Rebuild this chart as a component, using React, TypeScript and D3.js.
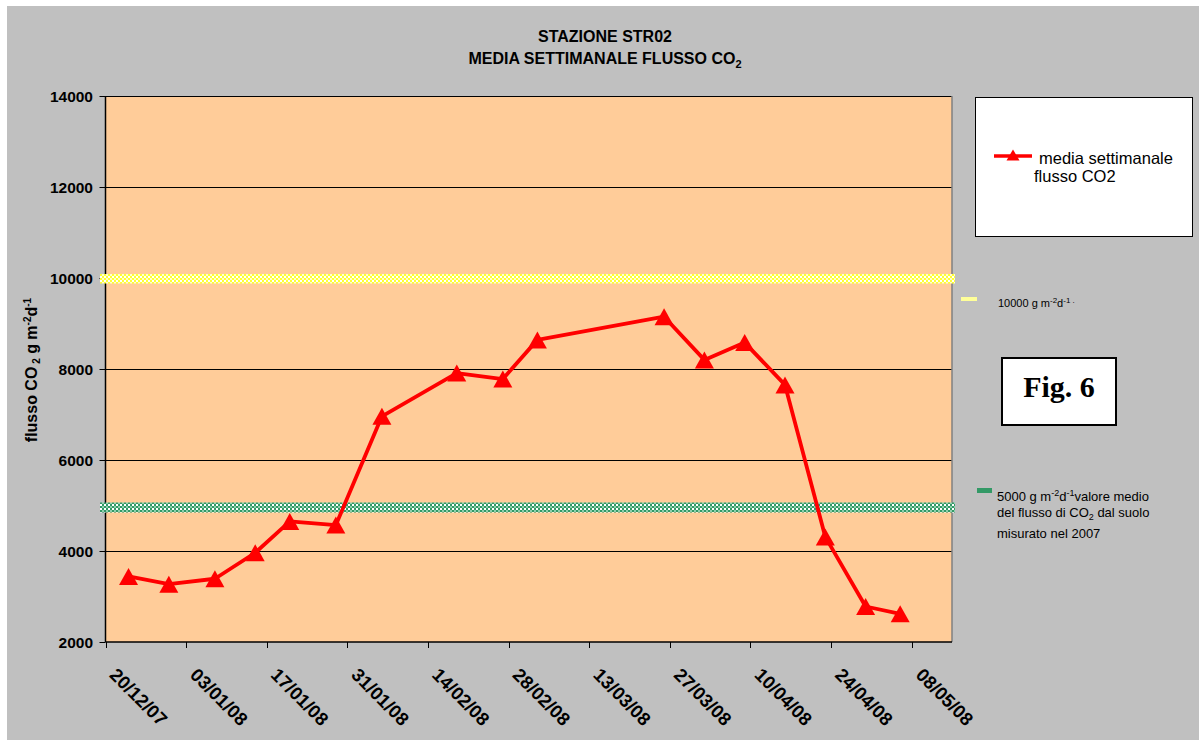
import React from "react";
import * as d3 from "d3";

const dates = ["24/12/07","31/12/07","08/01/08","15/01/08","21/01/08","29/01/08","06/02/08","19/02/08","27/02/08","04/03/08","26/03/08","02/04/08","09/04/08","16/04/08","23/04/08","30/04/08","06/05/08"];
const values = [3440, 3270, 3390, 3960, 4650, 4570, 6960, 7910, 7780, 8640, 9150, 8200, 8580, 7650, 4310, 2780, 2620];
const xTickLabels = ["20/12/07","03/01/08","17/01/08","31/01/08","14/02/08","28/02/08","13/03/08","27/03/08","10/04/08","24/04/08","08/05/08"];
const yTicks = [2000, 4000, 6000, 8000, 10000, 12000, 14000];
const xDomain = ["20/12/07", "15/05/08"];
const refHigh = 10000;
const refLow = 5000;

const parse = d3.timeParse("%d/%m/%y");

export default function App() {
  const W = 1199, H = 740;
  const left = 105.5, right = 952, top = 96, bottom = 642;
  const x = d3.scaleTime().domain(xDomain.map((s) => parse(s) as Date)).range([left, right]);
  const y = d3.scaleLinear().domain([2000, 14000]).range([bottom, top]);
  const pts = dates.map((d, i) => [x(parse(d) as Date), y(values[i])] as [number, number]);
  const line = d3.line()(pts) || "";
  const tri = (cx: number, cy: number, w: number, h: number) =>
    `M${cx},${cy - h / 2}L${cx + w / 2},${cy + h / 2}L${cx - w / 2},${cy + h / 2}Z`;
  const font = "'Liberation Sans', Arial, sans-serif";
  const crisp = (v: number) => Math.round(v) + 0.5;

  return (
    <svg width={W} height={H} style={{ position: "fixed", left: 0, top: 0 }} fontFamily={font}>
      <defs>
        <pattern id="pY" width="4" height="4" patternUnits="userSpaceOnUse">
          <rect width="4" height="4" fill="#ffff33" />
          <rect x="0" y="0" width="2" height="2" fill="#ffffff" />
          <rect x="2" y="2" width="2" height="2" fill="#ffffcc" />
        </pattern>
        <pattern id="pG" width="4" height="4" patternUnits="userSpaceOnUse">
          <rect width="4" height="4" fill="#339966" />
          <rect x="0" y="0" width="2" height="2" fill="#ffffff" />
          <rect x="2" y="2" width="2" height="2" fill="#8fcfae" />
        </pattern>
      </defs>
      <rect x={0} y={0} width={W} height={H} fill="#ffffff" />
      <rect x={7} y={6} width={W - 7} height={H - 6} fill="#c0c0c0" />

      <text x={605} y={42} textAnchor="middle" fontWeight="bold" fontSize={16}>STAZIONE STR02</text>
      <text x={605} y={64} textAnchor="middle" fontWeight="bold" fontSize={16}>
        MEDIA SETTIMANALE FLUSSO CO<tspan fontSize={11} dy={4}>2</tspan>
      </text>

      <rect x={left} y={top} width={right - left} height={bottom - top} fill="#ffcc99" />
      {yTicks.map((t) => (
        <g key={t}>
          {t > 2000 && <line x1={left} x2={right} y1={crisp(y(t))} y2={crisp(y(t))} stroke="#000" strokeWidth={1} />}
          <line x1={left - 6} x2={left} y1={crisp(y(t))} y2={crisp(y(t))} stroke="#000" />
          <text x={93} y={y(t) + 5.5} textAnchor="end" fontWeight="bold" fontSize={15.5}>{t}</text>
        </g>
      ))}
      <line x1={right} x2={right} y1={top} y2={bottom} stroke="#808080" strokeWidth={1.5} />
      <line x1={left} x2={left} y1={top} y2={bottom} stroke="#000" strokeWidth={1.5} />
      <line x1={left} x2={right} y1={bottom} y2={bottom} stroke="#000" strokeWidth={1.5} />
      {xTickLabels.map((s) => {
        const tx = x(parse(s) as Date);
        return (
          <g key={s}>
            <line x1={crisp(tx)} x2={crisp(tx)} y1={bottom} y2={bottom + 6} stroke="#000" />
            <text transform={`translate(${tx + 3},${bottom + 34}) rotate(45)`} fontWeight="bold" fontSize={18.5}>{s}</text>
          </g>
        );
      })}

      <rect x={100} y={y(refHigh) - 4} width={855} height={9.5} fill="url(#pY)" />
      <rect x={100} y={y(refLow) - 3} width={855} height={10} fill="url(#pG)" />

      <path d={line} fill="none" stroke="#ff0000" strokeWidth={3.8} strokeLinejoin="round" />
      {pts.map(([cx, cy], i) => (
        <path key={i} d={tri(cx, cy, 19, 17)} fill="#ff0000" />
      ))}

      <text transform="translate(37,370) rotate(-90)" textAnchor="middle" fontWeight="bold" fontSize={16}>
        flusso CO<tspan fontSize={10} dy={3}> 2</tspan><tspan dy={-3}> g m</tspan>
        <tspan fontSize={10} dy={-6}>-2</tspan><tspan dy={6}>d</tspan><tspan fontSize={10} dy={-6}>-1</tspan>
      </text>

      <rect x={975.5} y={97.5} width={217} height={139} fill="#ffffff" stroke="#000" strokeWidth={1} />
      <line x1={994} x2={1032} y1={156} y2={156} stroke="#ff0000" strokeWidth={3.5} />
      <path d={tri(1013, 155, 13, 11)} fill="#ff0000" />
      <text x={1039} y={164} fontSize={16.5}>media settimanale</text>
      <text x={1034} y={182} fontSize={16.5}>flusso CO2</text>

      <rect x={961} y={297} width={16} height={4} fill="#ffff99" />
      <text x={998} y={307} fontSize={11}>
        10000 g m<tspan fontSize={8} dy={-4}>-2</tspan><tspan dy={4}>d</tspan><tspan fontSize={8} dy={-4}>-1 .</tspan>
      </text>

      <rect x={1002} y={358} width={114} height={67} fill="#ffffff" stroke="#000" strokeWidth={2} />
      <text x={1059} y={397} textAnchor="middle" fontWeight="bold" fontSize={30} fontFamily="'Liberation Serif', 'Times New Roman', serif">Fig. 6</text>

      <rect x={977} y={488} width={15} height={5} fill="#339966" />
      <text x={997} y={501} fontSize={13}>
        5000 g m<tspan fontSize={9} dy={-5}>-2</tspan><tspan dy={5}>d</tspan><tspan fontSize={9} dy={-5}>-1</tspan><tspan dy={5}>valore medio</tspan>
      </text>
      <text x={997} y={517} fontSize={13}>
        del flusso di CO<tspan fontSize={9} dy={3}>2</tspan><tspan dy={-3}> dal suolo</tspan>
      </text>
      <text x={997} y={538} fontSize={13}>misurato nel 2007</text>
    </svg>
  );
}
